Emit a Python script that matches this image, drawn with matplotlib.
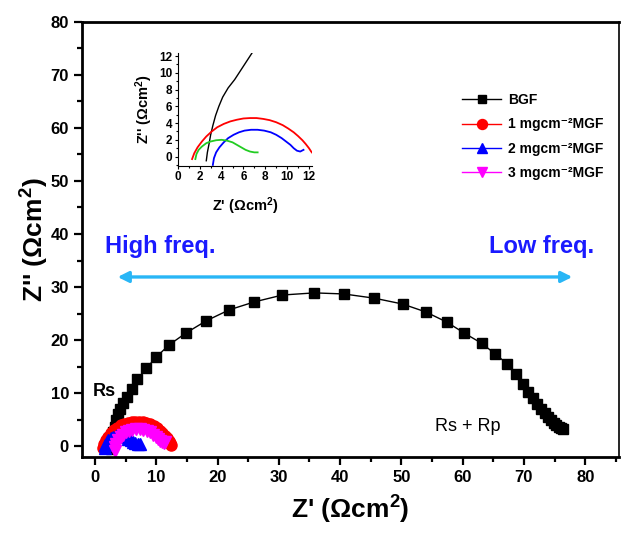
import matplotlib
matplotlib.use("Agg")
import matplotlib.pyplot as plt
from matplotlib.ticker import MultipleLocator

plt.rcParams['font.family'] = ['Liberation Sans', 'DejaVu Sans']
plt.rcParams['font.weight'] = 'bold'
plt.rcParams['mathtext.fontset'] = 'custom'
plt.rcParams['mathtext.rm'] = 'Liberation Sans:bold'
plt.rcParams['mathtext.bf'] = 'Liberation Sans:bold'
plt.rcParams['mathtext.default'] = 'bf'

# BGF
bgf_x = [2.6, 2.7, 2.85, 3.0, 3.2, 3.45, 3.75, 4.1, 4.6, 5.2, 6.0, 6.9, 8.4, 10.0, 12.1,
         14.8, 18.1, 21.9, 26.0, 30.6, 35.8, 40.6, 45.6, 50.2, 54.0, 57.4, 60.3, 63.1,
         65.3, 67.3, 68.7, 69.8, 70.7, 71.5, 72.2, 72.8, 73.4, 73.9, 74.4, 74.9, 75.3,
         75.7, 76.1, 76.4]
bgf_y = [-0.5, 0.5, 1.5, 2.6, 3.7, 4.9, 6.0, 7.1, 8.2, 9.2, 10.8, 12.6, 14.7, 16.8, 19.1,
         21.3, 23.6, 25.7, 27.2, 28.5, 28.9, 28.7, 27.9, 26.8, 25.3, 23.4, 21.3, 19.4,
         17.4, 15.5, 13.6, 11.7, 10.2, 9.0, 7.9, 7.0, 6.2, 5.5, 4.9, 4.4, 4.0,
         3.7, 3.4, 3.2]

# 1 mgcm-2 MGF
red_x = [1.3, 1.5, 1.8, 2.2, 2.6, 3.1, 3.6, 4.2, 4.8, 5.4, 6.0, 6.6, 7.2, 7.8, 8.4,
         9.0, 9.6, 10.1, 10.6, 11.0, 11.4, 11.7, 12.0, 12.2, 12.4]
red_y = [-0.3, 0.4, 1.1, 1.8, 2.4, 3.0, 3.5, 3.9, 4.2, 4.4, 4.55, 4.6, 4.6, 4.5, 4.35,
         4.1, 3.75, 3.35, 2.9, 2.45, 1.95, 1.5, 1.0, 0.6, 0.3]

# 2 mgcm-2 MGF
blue_x = [1.6, 1.7, 1.9, 2.2, 2.6, 3.0, 3.5, 4.0, 4.5, 5.0, 5.4, 5.8, 6.2, 6.6, 7.0, 7.3]
blue_y = [-0.3, 0.3, 0.8, 1.2, 1.6, 1.8, 1.95, 2.0, 1.9, 1.7, 1.4, 1.1, 0.8, 0.6, 0.5, 0.5]

# 3 mgcm-2 MGF
mag_x = [3.2, 3.3, 3.5, 3.8, 4.2, 4.6, 5.1, 5.6, 6.1, 6.7, 7.3, 7.9, 8.5, 9.0, 9.5,
         9.9, 10.3, 10.6, 10.9, 11.2, 11.5]
mag_y = [-1.0, -0.2, 0.5, 1.1, 1.7, 2.2, 2.6, 2.9, 3.1, 3.2, 3.2, 3.1, 2.9, 2.6, 2.2,
         1.8, 1.4, 1.0, 0.7, 0.6, 0.8]

labels = ['BGF', '1 mgcm\u207b\u00b2MGF', '2 mgcm\u207b\u00b2MGF', '3 mgcm\u207b\u00b2MGF']


def main():
    fig = plt.figure(figsize=(6.22, 5.33), dpi=100)
    ax = fig.add_axes([0.132, 0.143, 0.863, 0.816])

    ax.plot(bgf_x, bgf_y, 'k-s', lw=1, ms=6.5, label=labels[0])
    ax.plot(red_x, red_y, '-o', color='red', lw=1, ms=8, label=labels[1])
    ax.plot(blue_x, blue_y, '-^', color='blue', lw=1, ms=8, label=labels[2])
    ax.plot(mag_x, mag_y, '-v', color='magenta', lw=1, ms=8, label=labels[3])

    ax.set_xlim(-2.1, 85.5)
    ax.set_ylim(-2.0, 80)
    ax.xaxis.set_major_locator(MultipleLocator(10))
    ax.xaxis.set_minor_locator(MultipleLocator(5))
    ax.yaxis.set_major_locator(MultipleLocator(10))
    ax.yaxis.set_minor_locator(MultipleLocator(5))
    ax.tick_params(which='major', direction='out', length=6, width=1.6, labelsize=12)
    ax.tick_params(which='minor', direction='out', length=3.5, width=1.6)
    for s in ax.spines.values():
        s.set_linewidth(2)
    ax.spines['right'].set_linewidth(1.2)

    ax.set_xlabel("Z' (\u03a9cm$^{2}$)", fontsize=19, fontweight='bold', labelpad=6)
    ax.set_ylabel("Z'' (\u03a9cm$^{2}$)", fontsize=19, fontweight='bold', labelpad=0)

    ax.legend(loc='upper left', bbox_to_anchor=(0.685, 0.865), frameon=False,
              prop={'size': 10, 'weight': 'bold'}, handlelength=2.8,
              handletextpad=0.5, labelspacing=0.75, markerscale=0.9)

    # frecce e testi
    ax.annotate('', xy=(3.7, 31.9), xytext=(77.9, 31.9),
                arrowprops=dict(arrowstyle='<|-|>', color='#29b6f6', lw=2.4,
                                mutation_scale=16, shrinkA=0, shrinkB=0))
    ax.text(1.6, 37.6, 'High freq.', color='#1a1aff', fontsize=17,
            fontweight='bold', ha='left', va='center')
    ax.text(81.5, 37.6, 'Low freq.', color='#1a1aff', fontsize=17,
            fontweight='bold', ha='right', va='center')
    ax.text(1.6, 10.4, 'Rs', fontsize=13, fontweight='bold', ha='center', va='center')
    ax.text(60.8, 3.8, 'Rs + Rp', fontsize=13, fontweight='normal',
            ha='center', va='center')

    # inset
    ins = fig.add_axes([0.286, 0.689, 0.216, 0.212])
    ins.plot(bgf_x, bgf_y, 'k-', lw=1)
    ins.plot(red_x, red_y, '-', color='red', lw=1.3)
    ins.plot(mag_x, mag_y, '-', color='blue', lw=1.3)
    ins.plot(blue_x, blue_y, '-', color='#22cc22', lw=1.3)
    ins.set_xlim(0, 12.3)
    ins.set_ylim(-1.1, 12.4)
    ins.xaxis.set_major_locator(MultipleLocator(2))
    ins.xaxis.set_minor_locator(MultipleLocator(1))
    ins.yaxis.set_major_locator(MultipleLocator(2))
    ins.yaxis.set_minor_locator(MultipleLocator(1))
    ins.tick_params(which='major', direction='out', length=2.5, width=0.8,
                    labelsize=8.5, pad=1.5)
    ins.tick_params(which='minor', direction='out', length=1.5, width=0.8)
    ins.spines['top'].set_visible(False)
    ins.spines['right'].set_visible(False)
    ins.set_xlabel("Z' (\u03a9cm$^{2}$)", fontsize=10.5, fontweight='bold', labelpad=9)
    ins.set_ylabel("Z'' (\u03a9cm$^{2}$)", fontsize=10.5, fontweight='bold', labelpad=3)
    ins.patch.set_alpha(0)

    plt.savefig("out.png", dpi=100)


main()
